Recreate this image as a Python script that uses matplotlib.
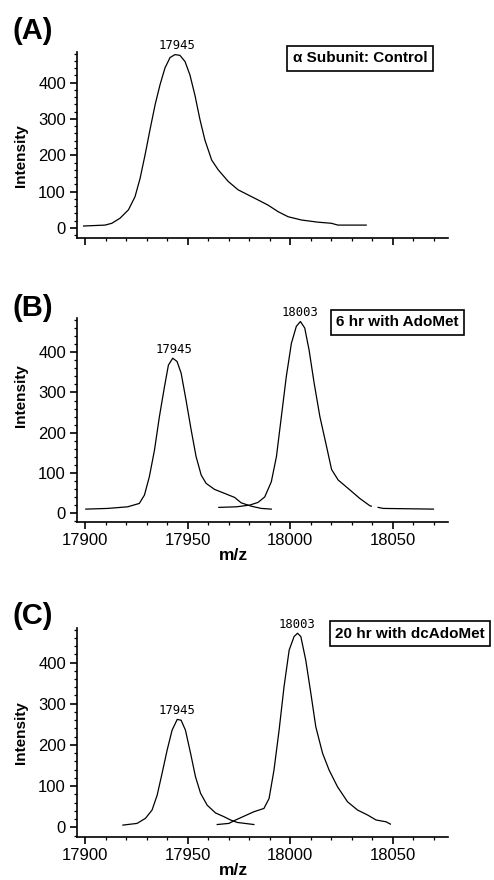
import numpy as np
import matplotlib
matplotlib.use("Agg")
import matplotlib.pyplot as plt
from matplotlib.ticker import MultipleLocator

plt.rcParams['font.family'] = ['Liberation Sans', 'DejaVu Sans']

# --- Panel A: control, single peak ---
a_mz = [17899.2, 17909.7, 17913, 17917, 17921.1, 17924.3, 17926.8, 17929.2, 17931.6, 17934.1,
        17936.5, 17938.9, 17941.4, 17943.8, 17946.2, 17948.7, 17951.1, 17953.5, 17956, 17958.4,
        17961.7, 17964.9, 17969.8, 17974.6, 17979.5, 17984.4, 17989.2, 17994.1, 17999, 18005.5,
        18013.6, 18020.1, 18023.3, 18037.1]
a_int = [5.5, 8, 13, 27, 50, 86, 137, 201, 270, 339,
         394, 440, 469, 477, 475, 458, 421, 366, 298, 242,
         187, 160, 128, 105, 91, 77, 63, 45, 31, 22,
         16, 13, 8, 8]

# --- Panel B: 6 hr with AdoMet ---
b1_mz = [17900.3, 17910.9, 17920.7, 17926.4, 17928.9, 17931.3, 17933.8, 17936.2, 17938.7, 17940.6,
         17942.7, 17944.8, 17946.8, 17949.2, 17951.7, 17954.1, 17956.6, 17959, 17963.1, 17968,
         17972.9, 17976.1, 17981, 17985.9, 17990.8]
b1_int = [10.7, 12.4, 16.4, 24.8, 45.5, 91, 157, 240, 315, 368,
          385, 377, 348, 281, 207, 141, 95, 74.5, 59.6, 49.7,
          39.7, 26.3, 18, 12.4, 10.7]
b2_mz = [17965.2, 17973.7, 17980.2, 17984.3, 17987.6, 17990.8, 17993.3, 17995.7, 17998.1, 18000.6,
         18003, 18005, 18007.1, 18009.2, 18011.7, 18014.5, 18017.4, 18020.2, 18023.4, 18029.2,
         18034, 18038.9, 18039.6, 18041, 18042.9, 18045.4, 18069.9]
b2_int = [15, 16.4, 20.6, 27.3, 41, 78.5, 141, 240, 339, 422,
          464, 476, 460, 406, 323, 240, 174, 109, 83, 58,
          37, 19, 18, np.nan, 15, 12.4, 10.7]

# --- Panel C: 20 hr with dcAdoMet ---
c1_mz = [17918.4, 17925.3, 17929.4, 17932.6, 17935.1, 17937.5, 17940, 17942.4, 17944.9, 17946.8,
         17948.9, 17951.4, 17953.8, 17956.3, 17959.5, 17963.6, 17967.7, 17970.9, 17974.2, 17982.3]
c1_int = [5.6, 9.7, 22, 42, 78, 131, 188, 236, 262, 260,
          236, 180, 123, 82.5, 54, 35, 26, 18, 12, 7]
c2_mz = [17964.4, 17970.1, 17973.4, 17977.4, 17982.3, 17987.2, 17989.7, 17992.1, 17994.6, 17997,
         17999.5, 18001.9, 18003.6, 18005.2, 18007.6, 18010.1, 18012.5, 18015.8, 18019, 18023.1,
         18028, 18032.9, 18037.8, 18041.9, 18046.8, 18048.9]
c2_int = [7, 9.7, 18, 27, 38, 46, 70, 139, 236, 341,
          430, 463, 471, 463, 406, 325, 244, 180, 139, 98.5,
          62, 42, 30, 18, 13.6, 8]

panel_letters = ["(A)", "(B)", "(C)"]
panel_titles = ["\u03b1 Subunit: Control", "6 hr with AdoMet", "20 hr with dcAdoMet"]
peak_labels = [[("17945", 17944.8)],
               [("17945", 17943.5), ("18003", 18005)],
               [("17945", 17945), ("18003", 18003.3)]]
yticks = [0, 100, 200, 300, 400]
xticks = [17900, 17950, 18000, 18050]

W, H = 494, 880
fig = plt.figure(figsize=(W / 100, H / 100), dpi=100)

# axes boxes in pixels: (top, bottom)
boxes = [(51.7, 238), (318.3, 522.3), (628.3, 837.3)]
ylims = [(-27.5, 485), (-22, 484), (-24, 483)]
left_px, right_px = 77, 448
series = [[(a_mz, a_int)], [(b1_mz, b1_int), (b2_mz, b2_int)], [(c1_mz, c1_int), (c2_mz, c2_int)]]
ylabel_y = [0.44, 0.62, 0.50]
letter_y = [31, 308, 616]
title_c = [(360, 58.2), (397.5, 322.3), (410, 633.5)]

for i in range(3):
    top, bot = boxes[i]
    ax = fig.add_axes([left_px / W, 1 - bot / H, (right_px - left_px) / W, (bot - top) / H])
    for mz, it in series[i]:
        ax.plot(mz, it, color='black', lw=0.9)
    ax.set_xlim(17896, 18077)
    ax.set_ylim(*ylims[i])
    for s in ['top', 'right']:
        ax.spines[s].set_visible(False)
    for s in ['left', 'bottom']:
        ax.spines[s].set_linewidth(1.2)
    ax.set_xticks(xticks)
    ax.set_yticks(yticks)
    ax.xaxis.set_minor_locator(MultipleLocator(10))
    ax.yaxis.set_minor_locator(MultipleLocator(20))
    ax.tick_params(which='major', length=5, width=1.2, labelsize=12, pad=3)
    ax.tick_params(which='minor', length=2.5, width=0.9)
    if i == 0:
        ax.tick_params(axis='x', labelbottom=False)
    else:
        ax.set_xlabel("m/z", fontsize=12.5, fontweight='bold')
        ax.xaxis.set_label_coords(0.421, -26 / (bot - top))
    ax.set_ylabel("Intensity", fontsize=11, fontweight='bold')
    ax.yaxis.set_label_coords(-0.131, ylabel_y[i])

    # peak labels
    for lab, x in peak_labels[i]:
        ypk = 0
        for mz, it in series[i]:
            mz = np.asarray(mz); it = np.asarray(it)
            near = np.abs(mz - x) < 4
            if near.any():
                ypk = max(ypk, np.nanmax(it[near]))
        ax.annotate(lab, xy=(x, ypk), xytext=(0, 6.5), textcoords='offset points',
                    ha='center', va='center', fontsize=8.8, family='DejaVu Sans Mono',
                    annotation_clip=False)

    fig.text(13 / W, 1 - letter_y[i] / H, panel_letters[i], fontsize=21, fontweight='bold',
             ha='left', va='center')
    cx, cy = title_c[i]
    fig.text(cx / W, 1 - cy / H, panel_titles[i], fontsize=11, fontweight='bold',
             ha='center', va='center',
             bbox=dict(boxstyle='square,pad=0.35', fc='white', ec='black', lw=1.2))

fig.savefig("out.png", dpi=100)
